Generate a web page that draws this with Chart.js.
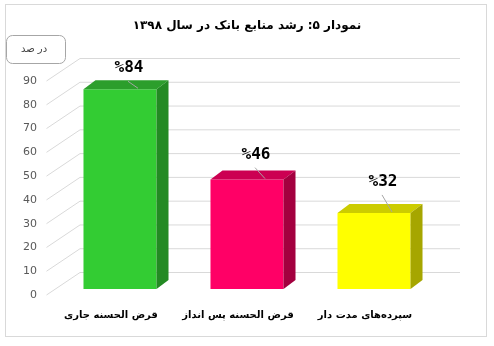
<!DOCTYPE html>
<html><head><meta charset="utf-8">
<script src="https://cdn.jsdelivr.net/npm/chart.js@4/dist/chart.umd.min.js"></script>
<style>html,body{margin:0;padding:0;background:#fff}canvas{display:block}</style>
</head><body>
<canvas id="c" width="494" height="346"></canvas>
<script>
// ---- data ----
const categories = ['قرض الحسنه جاری', 'قرض الحسنه پس انداز', 'سپرده‌های مدت دار'];
const values = [84, 46, 32];
const yTicks = [0, 10, 20, 30, 40, 50, 60, 70, 80, 90];
const chartTitle = 'نمودار ۵: رشد منابع بانک در سال ۱۳۹۸';
const unitLabel = 'در صد';
const valuePrefix = '%';

// ---- styles ----
const frontColors = ['#33cc33', '#ff0066', '#ffff00'];
const topColors = ['#2c9e2c', '#cc0052', '#cccc00'];
const sideColors = ['#238a23', '#a3003f', '#a6a600'];
const labelGap = [21, 25, 31];
const DEPTH_DX = 12, DEPTH_DY = -9;

const threeD = {
  id: 'threeD',
  beforeDatasetsDraw(chart) {
    const ctx = chart.ctx, y = chart.scales.y, area = chart.chartArea;
    ctx.save();
    ctx.strokeStyle = '#d9d9d9';
    ctx.lineWidth = 1;
    yTicks.forEach(v => {
      const p = y.getPixelForValue(v);
      ctx.beginPath();
      ctx.moveTo(area.left - 10, p + 6);
      ctx.lineTo(area.left + 23.5, p - 16.5);
      ctx.lineTo(area.right + 22.5, p - 16.5);
      ctx.stroke();
    });
    ctx.restore();
  },
  afterDatasetsDraw(chart) {
    const ctx = chart.ctx;
    const meta = chart.getDatasetMeta(0);
    ctx.save();
    meta.data.forEach((bar, i) => {
      const w = bar.width, l = bar.x - w / 2, r = bar.x + w / 2, t = bar.y, b = bar.base;
      ctx.fillStyle = topColors[i];
      ctx.beginPath();
      ctx.moveTo(l, t); ctx.lineTo(l + DEPTH_DX, t + DEPTH_DY);
      ctx.lineTo(r + DEPTH_DX, t + DEPTH_DY); ctx.lineTo(r, t); ctx.closePath(); ctx.fill();
      ctx.fillStyle = sideColors[i];
      ctx.beginPath();
      ctx.moveTo(r, t); ctx.lineTo(r + DEPTH_DX, t + DEPTH_DY);
      ctx.lineTo(r + DEPTH_DX, b + DEPTH_DY); ctx.lineTo(r, b); ctx.closePath(); ctx.fill();
      // label + leader
      const lx = bar.x + 9, ly = t - labelGap[i];
      ctx.strokeStyle = '#a6a6a6'; ctx.lineWidth = 1;
      ctx.beginPath(); ctx.moveTo(lx - 1, ly + 13); ctx.lineTo(bar.x + 18, t - 1); ctx.stroke();
      ctx.fillStyle = '#000';
      ctx.font = 'bold 16px "DejaVu Sans Mono"';
      ctx.textAlign = 'center'; ctx.textBaseline = 'middle';
      ctx.fillText(valuePrefix + values[i], lx, ly);
    });
    ctx.restore();
  },
  afterDraw(chart) {
    const ctx = chart.ctx;
    ctx.save();
    ctx.strokeStyle = '#d9d9d9'; ctx.lineWidth = 1;
    ctx.strokeRect(5.5, 4.5, 481, 332);
    ctx.fillStyle = '#000'; ctx.font = 'bold 12px "DejaVu Sans"';
    ctx.textAlign = 'center'; ctx.textBaseline = 'middle';
    ctx.fillText(chartTitle, 247, 26);
    ctx.strokeStyle = '#a6a6a6';
    ctx.beginPath(); ctx.roundRect(6.5, 35.5, 59, 28, 6); ctx.fillStyle = '#fff'; ctx.fill(); ctx.stroke();
    ctx.fillStyle = '#404040'; ctx.font = '10px "DejaVu Sans"';
    ctx.fillText(unitLabel, 34, 49.5);
    ctx.restore();
  }
};

new Chart(document.getElementById('c'), {
  type: 'bar',
  data: {
    labels: categories,
    datasets: [{ data: values, backgroundColor: frontColors, borderWidth: 0,
      barPercentage: 0.575, categoryPercentage: 1 }]
  },
  options: {
    responsive: false, animation: false, devicePixelRatio: 1,
    layout: { padding: { left: 0, right: 56.5, top: 75, bottom: 17 } },
    plugins: {
      legend: { display: false }, tooltip: { enabled: false }, title: { display: false }
    },
    scales: {
      x: {
        grid: { display: false, drawTicks: false }, border: { display: false },
        ticks: { color: '#000', font: { family: 'DejaVu Sans', size: 10, weight: 'bold' }, padding: 20, labelOffset: -9, maxRotation: 0, autoSkip: false },
        afterFit(s) { s.height = 40; }
      },
      y: {
        min: 0, max: 90,
        grid: { display: false, drawTicks: false }, border: { display: false },
        ticks: { stepSize: 10, color: '#595959', font: { family: 'DejaVu Sans', size: 11 }, padding: 19.5, labelOffset: 6 },
        afterFit(s) { s.width = 56.5; }
      }
    }
  },
  plugins: [threeD]
});
</script>
</body></html>
